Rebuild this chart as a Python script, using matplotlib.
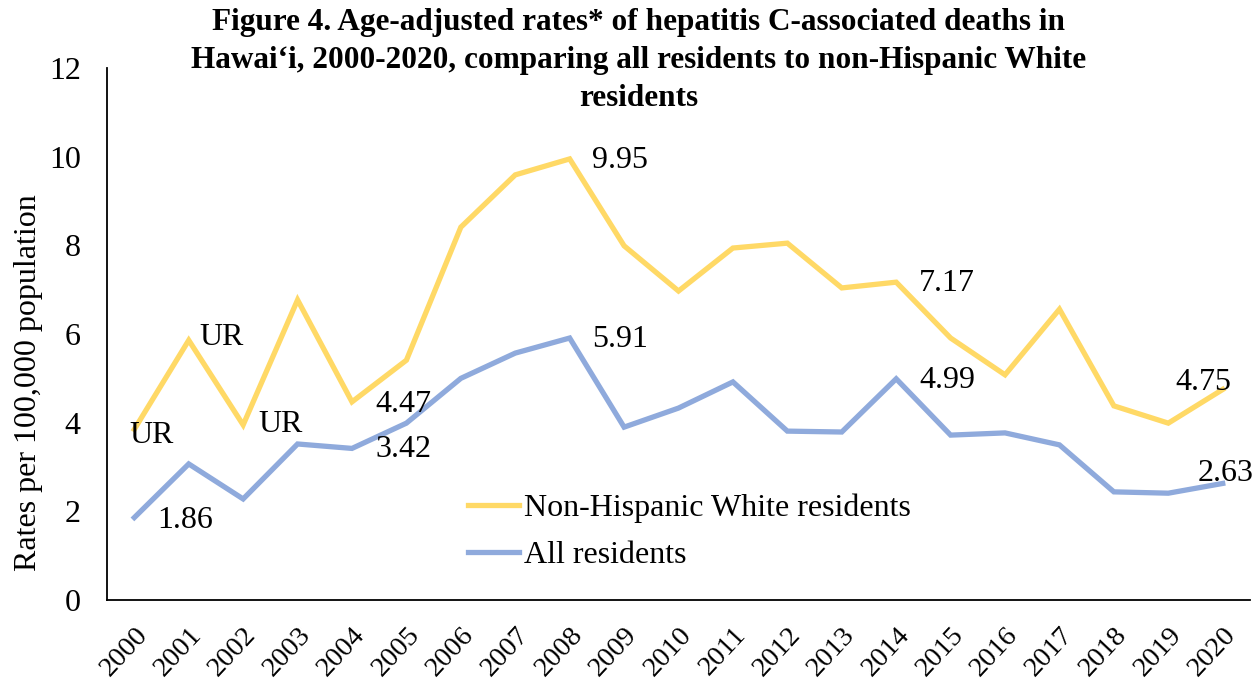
import matplotlib
matplotlib.use("Agg")
import matplotlib.pyplot as plt

# ---------- Данные ----------
years = [str(y) for y in range(2000, 2021)]
white_rates = [3.85, 5.86, 3.95, 6.77, 4.47, 5.41, 8.41, 9.59, 9.95, 7.99, 6.97,
               7.94, 8.05, 7.04, 7.17, 5.91, 5.08, 6.56, 4.38, 3.99, 4.75]
all_rates = [1.86, 3.07, 2.28, 3.52, 3.42, 3.99, 5.00, 5.57, 5.91, 3.90, 4.33,
             4.92, 3.81, 3.79, 4.99, 3.72, 3.77, 3.50, 2.44, 2.41, 2.63]

# метки данных: (индекс, текст, смещение в пикселях)
white_labels = [(0, "UR", (-5, -6)), (1, "UR", (11, 3)), (2, "UR", (15, 0)),
                (4, "4.47", (23, -3)), (8, "9.95", (22, -2)),
                (14, "7.17", (23, -1)), (20, "4.75", (-47, 7))]
all_labels = [(0, "1.86", (23, -3)), (4, "3.42", (23, -1)), (8, "5.91", (22, -1)),
              (14, "4.99", (23, -2)), (20, "2.63", (-25, 10))]

YELLOW = "#FFD966"
BLUE = "#8FAADC"
FS = 23

plt.rcParams["font.family"] = ["Liberation Serif", "DejaVu Serif"]

fig = plt.figure(figsize=(12.6, 6.79), dpi=100)
ax = fig.add_axes([0.085, 0.1163, 0.907, 0.7835])

x = list(range(len(years)))
ax.plot(x, white_rates, color=YELLOW, linewidth=3.8, label="Non-Hispanic White residents",
        solid_joinstyle="miter")
ax.plot(x, all_rates, color=BLUE, linewidth=3.8, label="All residents",
        solid_joinstyle="miter")

for i, txt, off in white_labels:
    ax.annotate(txt, (x[i], white_rates[i]), xytext=off, textcoords="offset pixels",
                ha="left", va="center", fontsize=FS)
for i, txt, off in all_labels:
    ax.annotate(txt, (x[i], all_rates[i]), xytext=off, textcoords="offset pixels",
                ha="left", va="center", fontsize=FS)

ax.set_xlim(-0.5, len(years) - 0.5)
ax.set_ylim(0, 12)
ax.set_yticks(range(0, 13, 2))
ax.set_xticks(x)
ax.set_xticklabels(years, rotation=47, ha="right", rotation_mode="anchor", fontsize=20.5)
ax.tick_params(axis="y", length=0, labelsize=FS, pad=19)
ax.tick_params(axis="x", length=0, pad=16)

for s in ["top", "right"]:
    ax.spines[s].set_visible(False)
for s in ["left", "bottom"]:
    ax.spines[s].set_linewidth(1.3)

ax.set_ylabel("Rates per 100,000 population", fontsize=FS)
ax.yaxis.set_label_coords(-0.056, 0.408)

ax.legend(loc="lower left", bbox_to_anchor=(0.316, 0.056), frameon=False, fontsize=FS,
          handlelength=1.6, handletextpad=0.15, labelspacing=0.55,
          borderaxespad=0, borderpad=0)

fig.suptitle("Figure 4. Age-adjusted rates* of hepatitis C-associated deaths in\n"
             "Hawai\u2018i, 2000-2020, comparing all residents to non-Hispanic White\nresidents",
             fontsize=22.5, fontweight="bold", x=0.507, y=0.988, linespacing=1.4)

fig.savefig("out.png", dpi=100)
